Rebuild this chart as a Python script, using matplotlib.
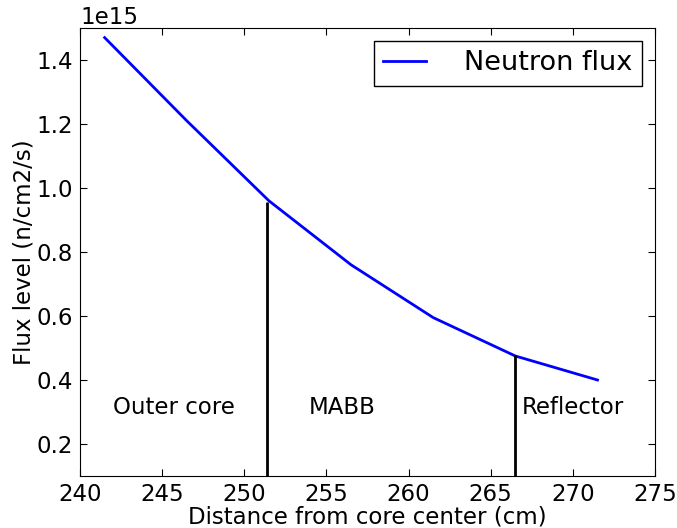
import matplotlib
matplotlib.use('Agg')
import matplotlib.pyplot as plt

# distance from core center (cm) and neutron flux (n/cm2/s)
distance = [241.5, 246.5, 251.5, 256.5, 261.5, 266.5, 271.5]
flux = [1.47e15, 1.21e15, 0.96e15, 0.76e15, 0.595e15, 0.475e15, 0.40e15]

# region boundaries and labels
boundaries = [251.4, 266.5]
boundary_tops = [0.955e15, 0.477e15]
region_names = ['Outer core', 'MABB', 'Reflector']
region_x = [242.0, 253.9, 266.9]
region_y = 0.315e15

plt.rcParams['font.family'] = 'DejaVu Sans'
plt.rcParams['xtick.direction'] = 'in'
plt.rcParams['ytick.direction'] = 'in'
plt.rcParams['xtick.top'] = True
plt.rcParams['ytick.right'] = True
plt.rcParams['xtick.major.size'] = 5
plt.rcParams['ytick.major.size'] = 5

fig = plt.figure(figsize=(6.77, 5.28), dpi=100)
ax = fig.add_axes([80/677, 1 - 476/528, 575/677, 448/528])

ax.plot(distance, flux, color='blue', lw=2, label='Neutron flux')
for b, t in zip(boundaries, boundary_tops):
    ax.vlines(b, 0.1e15, t, color='black', lw=2)
for name, x in zip(region_names, region_x):
    ax.text(x, region_y, name, fontsize=16.5, va='center')

ax.set_xlim(240, 275)
ax.set_ylim(0.1e15, 1.5e15)
ax.set_xticks(range(240, 276, 5))
ax.set_yticks([0.2e15, 0.4e15, 0.6e15, 0.8e15, 1.0e15, 1.2e15, 1.4e15])
ax.tick_params(labelsize=16.5, pad=5)
ax.yaxis.get_offset_text().set_fontsize(16.5)
ax.set_xlabel('Distance from core center (cm)', fontsize=16.5, labelpad=0)
ax.set_ylabel('Flux level (n/cm2/s)', fontsize=16.5, labelpad=1)
leg = ax.legend(loc='upper right', fontsize=19.5, fancybox=False, framealpha=1,
                edgecolor='black', borderaxespad=0.48, handlelength=1.6,
                handletextpad=1.4, borderpad=0.35)
leg.get_frame().set_linewidth(1)

fig.savefig('out.png', dpi=100)
